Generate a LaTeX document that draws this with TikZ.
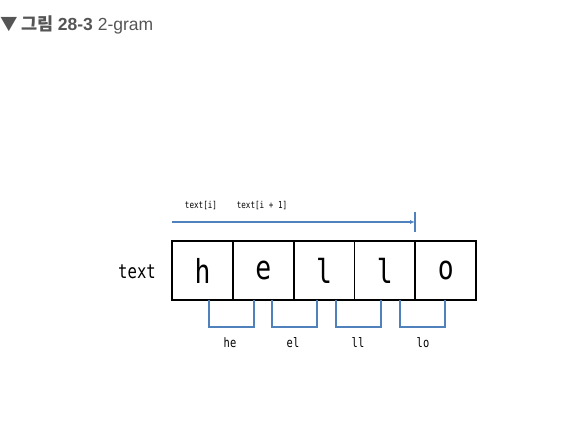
\documentclass[tikz,border=0pt]{standalone}
\usepackage{fontspec}
\usetikzlibrary{arrows.meta}
\setmainfont{Liberation Sans}
\newfontfamily\krfont{Noto Sans CJK KR}
\newfontfamily\monofont[FakeStretch=0.8]{DejaVu Sans Mono}
\definecolor{tgray}{HTML}{555555}
\definecolor{lblue}{HTML}{4F81BD}
\begin{document}
\begin{tikzpicture}[x=1pt,y=-1pt,
  cell/.style={draw=black,line width=1.6pt,minimum width=61pt,minimum height=59pt,inner sep=0pt,font=\monofont\fontsize{33}{33}\selectfont},
  brk/.style={draw=lblue,line width=1.6pt},
  glab/.style={inner sep=0pt,font=\monofont\fontsize{13}{13}\selectfont},
  toplab/.style={inner sep=0pt,font=\monofont\fontsize{9.5}{10}\selectfont}]
\useasboundingbox (0,0) rectangle (577,447);
\node[anchor=west,inner sep=0pt,text=tgray,font=\fontsize{17.5}{17.5}\selectfont] (title) at (0,25)
  {{\krfont\bfseries ▼ 그림 }\textbf{28-3} 2-gram};
\foreach \i/\c in {0/h,1/e,2/l,3/l,4/o}{
  \node[cell] (c\i) at (202.5+60.8*\i,270.5) {\c};
}
\node[inner sep=0pt,font=\monofont\fontsize{19.5}{19.5}\selectfont] (lab) at (137,272) {text};
\coordinate (as) at (172,222);
\coordinate (ae) at (415,222);
\coordinate (t1) at (415,212);
\coordinate (t2) at (415,232);
\draw[lblue,line width=1.3pt,-{Latex[length=5pt,width=4pt]}] (as) -- (ae);
\draw[lblue,line width=1.6pt] (t1) -- (t2);
\node[toplab] (ti) at (201,206) {text[i]};
\node[toplab] (ti1) at (262,206) {text[i + 1]};
\foreach \a/\b/\t/\x [count=\k] in {209/254/he/230,272/317/el/293,336/381/ll/358,400/445/lo/423}{
  \coordinate (p\k a) at (\a,300);
  \coordinate (p\k b) at (\b,300);
  \draw[brk] (p\k a) |- (\b,327) -- (p\k b);
  \node[glab] (g\k) at (\x,343) {\t};
}
\end{tikzpicture}
\end{document}
